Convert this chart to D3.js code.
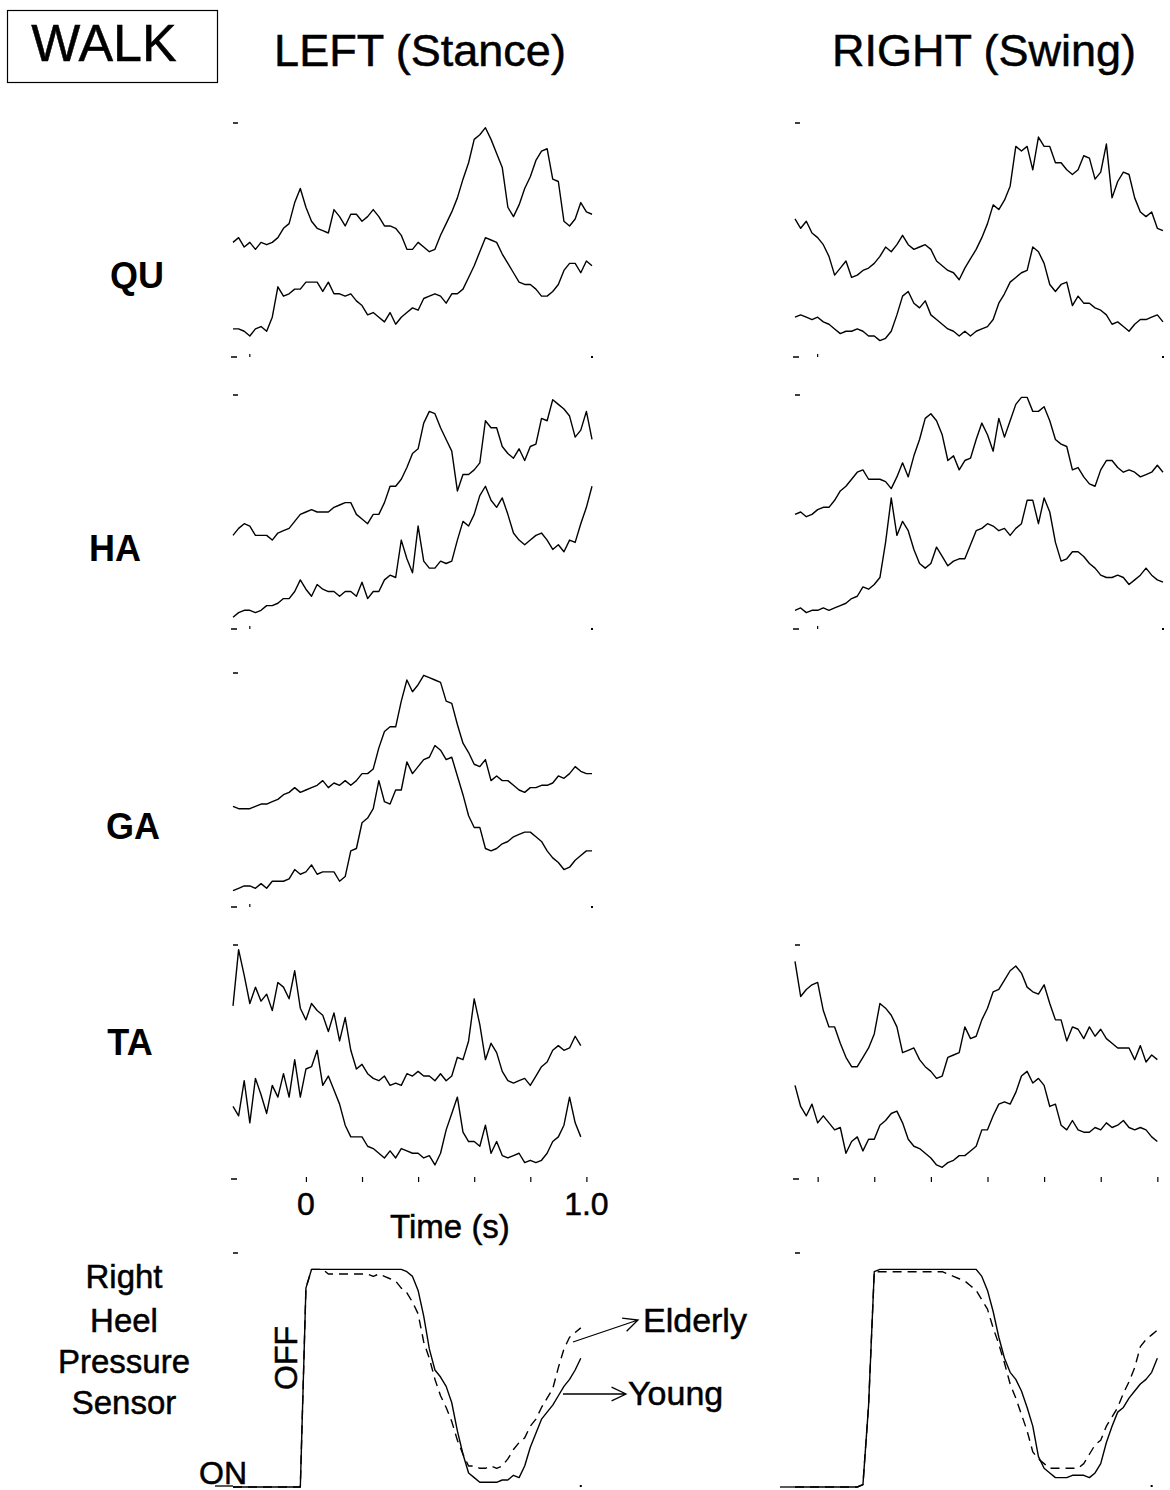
<!DOCTYPE html>
<html>
<head>
<meta charset="utf-8">
<script src="https://cdn.jsdelivr.net/npm/d3@7"></script>
<style>
body { margin: 0; background: #fff; }
text { font-family: "Liberation Sans", Arial, Helvetica, sans-serif; fill: #000; stroke: #000; stroke-width: 0.5px; }
</style>
</head>
<body>
<script>
// sampling grid (s): one value every 20 ms
const step = 0.02
const leftStart = -0.26, leftEnd = 1.02
const rightStart = -0.28, rightEnd = 1.02

// EMG envelopes, 0-100 of panel height, upper / lower trace
const quLeftUpper = [49,51,47,49,46,49,48,49,51,55,57,66,72,64,58,55,54,53,63,60,56,61,61,58,60,63,60,56,56,55,52,46,46,49,47,45,46,52,57,62,68,76,83,93,95,98,93,87,81,64,60,65,72,77,84,88,89,76,75,58,56,59,66,62,61]
const quLeftLower = [12,12,11,9,12,13,11,17,30,26,27,29,29,32,32,32,28,32,27,27,26,27,24,22,18,19,17,15,19,14,17,19,21,20,25,26,27,26,23,27,27,29,34,39,45,51,50,49,44,40,36,32,31,31,29,26,26,28,31,37,40,40,36,41,39]
const quRightUpper = [59,55,58,53,51,48,43,35,38,41,34,35,37,38,40,43,47,45,48,52,48,46,47,48,46,41,39,37,36,33,38,42,46,51,57,65,63,67,73,90,88,90,80,94,90,90,83,83,80,78,80,86,85,76,79,91,68,75,79,78,68,62,60,62,55,54]
const quRightLower = [17,18,17,16,17,15,14,12,10,11,11,12,11,9,9,7,8,11,18,26,28,23,21,24,18,16,14,12,11,9,11,9,11,12,13,16,23,27,32,34,36,37,47,45,40,31,28,31,32,22,26,23,23,21,20,18,14,15,13,11,14,16,16,17,18,15]

const haLeftUpper = [40,43,45,44,40,40,40,38,41,42,43,46,49,50,51,50,50,50,52,53,54,54,49,47,45,49,49,54,61,61,64,69,75,77,88,93,92,86,81,76,59,66,66,68,71,89,86,86,78,75,73,77,72,78,79,90,89,98,96,94,91,82,85,93,81]
const haLeftLower = [5,7,8,8,7,8,10,10,11,13,13,16,21,17,14,19,17,16,16,14,16,16,14,20,13,16,16,21,23,22,38,30,24,44,29,26,26,29,28,29,38,46,44,49,57,61,55,52,56,49,41,38,36,38,40,41,38,34,36,33,38,37,45,52,61]
const haRightUpper = [49,50,48,49,51,52,52,55,59,61,64,67,68,64,64,64,63,60,65,71,65,74,81,90,92,89,83,72,74,68,72,73,81,88,83,76,90,82,89,96,99,99,93,93,95,89,81,79,78,68,69,65,62,61,68,72,72,69,67,68,67,65,66,67,70,67]
const haRightLower = [8,9,7,8,8,9,8,9,10,11,13,14,18,17,19,22,37,56,40,46,42,34,28,26,28,35,31,27,29,30,30,36,42,43,45,44,42,43,40,43,45,55,55,45,56,50,37,29,30,33,33,31,28,26,23,22,22,23,22,19,21,23,26,23,21,20]

const gaLeftUpper = [43,42,42,42,43,44,44,45,46,48,49,51,49,50,51,52,54,51,53,52,54,52,54,57,57,59,68,75,77,77,88,97,92,95,99,98,97,96,88,87,78,70,66,61,60,63,54,56,54,54,52,50,49,51,51,52,52,53,56,55,57,60,58,57,57]
const gaLeftLower = [7,8,9,9,8,10,8,11,11,11,12,16,14,15,18,14,15,15,15,11,13,24,25,36,38,42,54,45,44,50,50,62,57,60,63,64,69,67,63,64,56,48,39,34,34,25,24,25,27,28,30,31,32,32,30,28,24,21,19,16,17,20,22,24,24]

const taLeftUpper = [74,98,87,75,82,76,79,72,84,82,77,89,73,68,75,72,70,63,71,59,69,55,47,49,45,43,42,44,40,41,40,45,44,46,44,44,42,45,42,44,52,51,59,77,66,51,58,54,46,42,41,42,43,40,44,48,50,55,57,55,56,61,57,null,null]
const taLeftLower = [31,27,42,24,43,36,28,40,35,45,35,51,35,47,48,55,40,44,38,32,23,18,18,18,14,13,11,9,12,9,13,12,11,11,9,10,6,11,21,28,35,20,16,16,14,23,11,16,10,9,10,11,7,8,7,8,11,16,18,23,35,24,18,null,null]
const taRightUpper = [93,78,81,83,84,72,65,65,58,52,48,48,52,56,62,75,73,70,65,54,55,56,51,48,46,43,44,52,53,54,65,60,61,68,73,80,81,85,89,91,88,82,80,79,83,75,68,68,59,65,64,60,65,61,64,60,58,56,56,56,51,57,50,53,51,null]
const taRightLower = [40,31,27,32,24,27,24,21,22,11,16,18,12,17,17,23,25,28,29,24,17,14,13,11,9,6,5,7,8,10,10,12,14,21,21,27,32,33,32,37,44,46,41,43,40,31,32,23,21,25,21,20,20,22,21,24,22,23,25,22,21,22,21,18,16,null]

// right heel pressure sensor, 0 = ON, ~93 = OFF
const heelLeftYoung = [0,0,0,0,0,0,0,0,0,0,0,0,0,85,93,93,93,93,93,93,93,93,93,93,93,93,93,93,93,93,93,92,90,84,73,59,50,47,43,36,24,14,6,4,2,2,2,2,3,3,5,4,9,17,23,29,32,35,39,43,46,50,55,null,null]
const heelLeftElderly = [0,0,0,0,0,0,0,0,0,0,0,0,0,85,93,93,93,91,91,91,91,91,91,91,91,90,91,90,89,88,85,83,79,74,62,55,46,39,34,28,20,14,9,9,8,8,9,8,9,12,16,19,21,26,29,34,38,42,51,59,64,66,68,null,null]
const heelRightYoung = [0,0,0,0,0,0,0,0,0,0,0,0,1,35,92,93,93,93,93,93,93,93,93,93,93,93,93,93,93,93,93,93,93,90,84,75,64,55,49,46,41,34,26,13,8,6,4,4,4,5,5,5,4,6,10,19,26,32,34,38,41,44,46,49,55,null]
const heelRightElderly = [0,0,0,0,0,0,0,0,0,0,0,0,1,35,92,92,92,92,92,92,92,92,92,92,92,92,92,91,90,89,88,86,84,80,76,68,61,53,44,38,31,24,15,12,10,8,8,8,8,8,8,10,14,18,20,26,30,34,40,45,51,60,63,65,67,null]

const rowLabels = ["QU", "HA", "GA", "TA"]
const timeTicks = [0, 0.2, 0.4, 0.6, 0.8, 1.0]
const timeTicksRight = [-0.2, 0, 0.2, 0.4, 0.6, 0.8, 1.0]

let W = 1170
let H = 1490

let svg = d3.select("body")
    .append("svg")
    .attr("width", W)
    .attr("height", H)

let xLeft = d3.scaleLinear().domain([leftStart, leftEnd]).range([233, 592])
let xRight = d3.scaleLinear().domain([rightStart, rightEnd]).range([795, 1163])

let panelH = 234

let panels = [
    { top: 123, side: "left", series: [quLeftUpper, quLeftLower] },
    { top: 123, side: "right", series: [quRightUpper, quRightLower] },
    { top: 395, side: "left", series: [haLeftUpper, haLeftLower] },
    { top: 395, side: "right", series: [haRightUpper, haRightLower] },
    { top: 673, side: "left", series: [gaLeftUpper, gaLeftLower] },
    { top: 945, side: "left", series: [taLeftUpper, taLeftLower], axis: true },
    { top: 945, side: "right", series: [taRightUpper, taRightLower], axis: true },
    { top: 1253, side: "left", series: [heelLeftYoung, heelLeftElderly], heel: true },
    { top: 1253, side: "right", series: [heelRightYoung, heelRightElderly], heel: true }
]

for (let p of panels) {
    let x = p.side == "left" ? xLeft : xRight
    let t0 = p.side == "left" ? leftStart : rightStart
    let y = d3.scaleLinear().domain([0, 100]).range([p.top + panelH, p.top])
    let g = svg.append("g")

    let line = d3.line()
        .defined(d => d[1] != null)
        .x(d => x(d[0]))
        .y(d => y(d[1]))

    p.series.forEach((vals, k) => {
        let pts = vals.map((v, i) => [t0 + i * step, v])
        g.append("path")
            .attr("d", line(pts))
            .attr("fill", "none")
            .attr("stroke", "#000")
            .attr("stroke-width", 1.4)
            .attr("stroke-linejoin", "round")
            .attr("stroke-dasharray", p.heel && k == 1 ? "9,6" : null)
    })

    // small top marker
    g.append("line")
        .attr("x1", x(t0)).attr("x2", x(t0) + 5)
        .attr("y1", y(100)).attr("y2", y(100))
        .attr("stroke", "#000").attr("stroke-width", 1.5)

    if (p.heel) {
        g.append("rect")
            .attr("x", x(0.98) - 1).attr("y", y(0) - 2)
            .attr("width", 2).attr("height", 2)
        continue
    }

    // bottom marker
    g.append("line")
        .attr("x1", x(t0) - 2).attr("x2", x(t0) + 4)
        .attr("y1", y(0)).attr("y2", y(0))
        .attr("stroke", "#000").attr("stroke-width", 1.5)

    if (p.axis) {
        let ax = d3.axisBottom(x)
            .tickValues(p.side == "left" ? timeTicks : timeTicksRight)
            .tickSize(5)
            .tickFormat("")
        let a = g.append("g")
            .attr("transform", "translate(0," + (y(0) - 2) + ")")
            .call(ax)
        a.select(".domain").remove()
        a.selectAll(".tick line").attr("stroke-width", 1.2)
    } else {
        g.append("line")
            .attr("x1", x(-0.2)).attr("x2", x(-0.2))
            .attr("y1", y(0) - 3).attr("y2", y(0))
            .attr("stroke", "#000").attr("stroke-width", 1.2)
        g.append("rect")
            .attr("x", x(p.side == "left" ? leftEnd : rightEnd) - 1).attr("y", y(0) - 1)
            .attr("width", 2).attr("height", 2)
    }
}

// header
svg.append("rect")
    .attr("x", 7.5).attr("y", 10.5)
    .attr("width", 210).attr("height", 72)
    .attr("fill", "none").attr("stroke", "#000").attr("stroke-width", 1.2)

svg.append("text").attr("x", 104).attr("y", 61)
    .attr("text-anchor", "middle").style("font-size", "52px")
    .text("WALK")
svg.append("text").attr("x", 420).attr("y", 66)
    .attr("text-anchor", "middle").style("font-size", "45px")
    .text("LEFT (Stance)")
svg.append("text").attr("x", 984).attr("y", 66)
    .attr("text-anchor", "middle").style("font-size", "45px")
    .text("RIGHT (Swing)")

// row labels
let labelPos = [[137, 288], [115, 561], [133, 839], [130, 1055]]
rowLabels.forEach((r, i) => {
    svg.append("text")
        .attr("x", labelPos[i][0]).attr("y", labelPos[i][1])
        .attr("text-anchor", "middle")
        .style("font-size", "36px").style("font-weight", "bold")
        .style("stroke-width", "0px")
        .text(r)
})

// time axis labels
svg.append("text").attr("x", xLeft(0)).attr("y", 1215)
    .attr("text-anchor", "middle").style("font-size", "32px")
    .text("0")
svg.append("text").attr("x", xLeft(1.0)).attr("y", 1215)
    .attr("text-anchor", "middle").style("font-size", "32px")
    .text("1.0")
svg.append("text").attr("x", 450).attr("y", 1238)
    .attr("text-anchor", "middle").style("font-size", "33px")
    .text("Time (s)")

// heel sensor labels
let sensorLines = ["Right", "Heel", "Pressure", "Sensor"]
let sensorY = [1288, 1332, 1373, 1414]
sensorLines.forEach((s, i) => {
    svg.append("text")
        .attr("x", 124).attr("y", sensorY[i])
        .attr("text-anchor", "middle")
        .style("font-size", "33px")
        .text(s)
})

svg.append("text")
    .attr("transform", "translate(297,1358) rotate(-90)")
    .attr("text-anchor", "middle").style("font-size", "32px")
    .text("OFF")
svg.append("text").attr("x", 199).attr("y", 1484)
    .style("font-size", "32px")
    .text("ON")
svg.append("line")
    .attr("x1", 215).attr("x2", xLeft(leftStart))
    .attr("y1", 1486).attr("y2", 1486)
    .attr("stroke", "#000").attr("stroke-width", 1.3)
svg.append("line")
    .attr("x1", 780).attr("x2", xRight(rightStart))
    .attr("y1", 1487).attr("y2", 1487)
    .attr("stroke", "#000").attr("stroke-width", 1.3)

// arrows
function arrow(x1, y1, x2, y2) {
    let ang = Math.atan2(y2 - y1, x2 - x1)
    let len = 16, spread = 0.45
    let p = d3.path()
    p.moveTo(x1, y1)
    p.lineTo(x2, y2)
    p.moveTo(x2 - len * Math.cos(ang - spread), y2 - len * Math.sin(ang - spread))
    p.lineTo(x2, y2)
    p.lineTo(x2 - len * Math.cos(ang + spread), y2 - len * Math.sin(ang + spread))
    svg.append("path").attr("d", p.toString())
        .attr("fill", "none").attr("stroke", "#000").attr("stroke-width", 1.3)
}
arrow(573, 1342, 638, 1320)
arrow(563, 1394, 626, 1394)

svg.append("text").attr("x", 643).attr("y", 1332)
    .style("font-size", "34px").text("Elderly")
svg.append("text").attr("x", 628).attr("y", 1405)
    .style("font-size", "34px").text("Young")
</script>
</body>
</html>
